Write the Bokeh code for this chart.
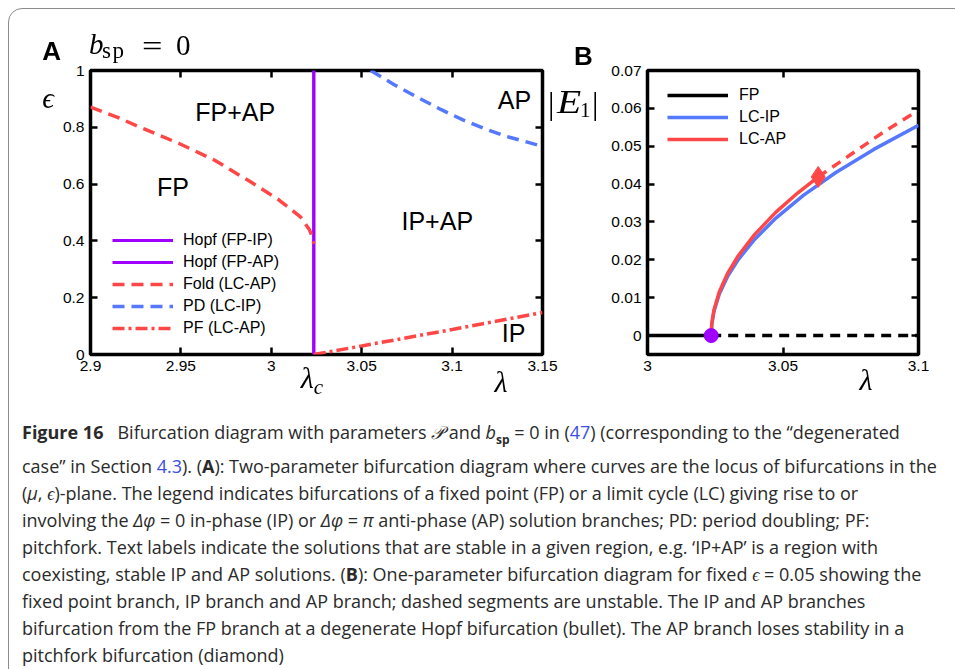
from bokeh.plotting import figure
from bokeh.models import Range1d, FixedTicker, LinearAxis, Label, Legend, LegendItem, Div
from bokeh.layouts import column, row
from bokeh.embed import file_html
from bokeh.resources import INLINE

# ---------------- data: panel A (two-parameter diagram) ----------------
lam_c = 3.0235
hopf_lam = [lam_c, lam_c]
hopf_eps = [0.0, 1.0]
fold_lam = [2.900, 2.915, 2.9293, 2.949, 2.9687, 2.9885, 3.0043, 3.0161, 3.0211, 3.0230, 3.0235]
fold_eps = [0.871, 0.835, 0.795, 0.743, 0.684, 0.608, 0.544, 0.485, 0.439, 0.410, 0.390]
pd_lam = [3.055, 3.068, 3.081, 3.094, 3.106, 3.118, 3.130, 3.150]
pd_eps = [1.000, 0.950, 0.905, 0.862, 0.826, 0.795, 0.768, 0.733]
pf_lam = [3.0235, 3.050, 3.075, 3.100, 3.125, 3.150]
pf_eps = [0.000, 0.030, 0.059, 0.088, 0.118, 0.148]
region_names = ["FP+AP", "FP", "IP+AP", "AP", "IP"]
region_lam = [2.980, 2.9456, 3.0918, 3.1345, 3.134]
region_eps = [0.854, 0.591, 0.471, 0.895, 0.074]
a_xticks = [2.9, 2.95, 3.0, 3.05, 3.1, 3.15]
a_xlabels = ["2.9", "2.95", "3", "3.05", "3.1", "3.15"]
a_yticks = [0.0, 0.2, 0.4, 0.6, 0.8, 1.0]
a_ylabels = ["0", "0.2", "0.4", "0.6", "0.8", "1"]
a_legend = ["Hopf (FP-IP)", "Hopf (FP-AP)", "Fold (LC-AP)", "PD (LC-IP)", "PF (LC-AP)"]

# ---------------- data: panel B (one-parameter diagram) ----------------
fp_stable_lam = [3.0, lam_c]
fp_stable_E = [0.0, 0.0]
fp_unstable_lam = [lam_c, 3.1]
fp_unstable_E = [0.0, 0.0]
ip_lam = [3.0235, 3.0237, 3.0245, 3.0265, 3.0295, 3.0335, 3.0395, 3.0475, 3.0575, 3.0695, 3.0835, 3.1]
ip_E = [0.0, 0.00284, 0.00635, 0.01099, 0.01555, 0.02007, 0.02539, 0.03109, 0.03701, 0.04305, 0.04916, 0.05551]
ap_stable_lam = [3.0235, 3.0237, 3.0245, 3.0265, 3.0295, 3.0335, 3.0395, 3.0475, 3.0555, 3.063]
ap_stable_E = [0.0, 0.00298, 0.00667, 0.01155, 0.01633, 0.02108, 0.02666, 0.03266, 0.03771, 0.0419]
ap_unstable_lam = [3.063, 3.075, 3.087, 3.0995]
ap_unstable_E = [0.0419, 0.0478, 0.0537, 0.0593]
pf_point_lam = [3.063]
pf_point_E = [0.0419]
hopf_point_lam = [lam_c]
hopf_point_E = [0.0]
b_xticks = [3.0, 3.05, 3.1]
b_xlabels = ["3", "3.05", "3.1"]
b_yticks = [0.0, 0.01, 0.02, 0.03, 0.04, 0.05, 0.06, 0.07]
b_ylabels = ["0", "0.01", "0.02", "0.03", "0.04", "0.05", "0.06", "0.07"]
b_legend = ["FP", "LC-IP", "LC-AP"]

RED = "#ff4747"
BLUE = "#5578ff"
PURPLE = "#a000ff"
SANS = "Liberation Sans"
SERIF = "Liberation Serif"
H = 400  # canvas height of both panels


def style_axis(ax, ticks, labels, show):
    ax.ticker = FixedTicker(ticks=ticks)
    ax.major_tick_in = 7
    ax.major_tick_out = 0
    ax.minor_tick_in = 0
    ax.minor_tick_out = 0
    ax.major_tick_line_width = 2.5
    ax.major_tick_line_color = "black"
    ax.axis_line_color = None
    ax.axis_label = None
    if show:
        ax.major_label_overrides = dict(zip(ticks, labels))
        ax.major_label_text_font = SANS
        ax.major_label_text_color = "black"
        ax.major_label_text_font_size = "15.5px"
        ax.major_label_standoff = 6
    else:
        ax.major_label_text_color = None
        ax.major_label_text_font_size = "1px"
        ax.major_label_standoff = 0


def make_fig(width, xr, yr, borders, xt, xl, yt, yl):
    p = figure(width=width, height=H, x_range=Range1d(*xr), y_range=Range1d(*yr),
               output_backend="svg", toolbar_location=None,
               min_border_left=borders[0], min_border_right=borders[1],
               min_border_top=borders[2], min_border_bottom=borders[3])
    p.grid.visible = False
    p.border_fill_color = None
    p.background_fill_color = "white"
    p.outline_line_color = "black"
    p.outline_line_width = 3.5
    style_axis(p.xaxis[0], xt, xl, True)
    style_axis(p.yaxis[0], yt, yl, True)
    top = LinearAxis()
    style_axis(top, xt, xl, False)
    p.add_layout(top, "above")
    right = LinearAxis()
    style_axis(right, yt, yl, False)
    p.add_layout(right, "right")
    return p


# ---------------- panel A ----------------
pa = make_fig(560, (2.9, 3.15), (0, 1), (90, 18, 70, 45), a_xticks, a_xlabels, a_yticks, a_ylabels)
r_h1 = pa.line(hopf_lam, hopf_eps, line_color=PURPLE, line_width=3)
r_h2 = pa.line(hopf_lam, hopf_eps, line_color=PURPLE, line_width=3)
r_fold = pa.line(fold_lam, fold_eps, line_color=RED, line_width=3.5, line_dash="12 7")
r_pd = pa.line(pd_lam, pd_eps, line_color=BLUE, line_width=3.5, line_dash="12 7")
r_pf = pa.line(pf_lam, pf_eps, line_color=RED, line_width=3.5, line_dash="12 4 3 4")
for name, lx, ly in zip(region_names, region_lam, region_eps):
    pa.add_layout(Label(x=lx, y=ly, text=name, text_font=SANS, text_font_size="25px",
                        text_align="center", text_baseline="middle", text_color="black"))
leg_a = Legend(items=[LegendItem(label=t, renderers=[r]) for t, r in
                      zip(a_legend, [r_h1, r_h2, r_fold, r_pd, r_pf])],
               location=(22, 15), orientation="vertical", padding=0, margin=0, spacing=0,
               glyph_width=61, glyph_height=22, label_height=22, label_standoff=10,
               label_text_font=SANS, label_text_font_size="16px", label_text_color="black",
               border_line_color=None, background_fill_alpha=0)
pa.add_layout(leg_a)

# ---------------- panel B ----------------
pb = make_fig(415, (3.0, 3.1), (-0.005, 0.07), (107, 37, 70, 46), b_xticks, b_xlabels, b_yticks, b_ylabels)
pb.margin = (0, 0, 0, -20)
r_fp = pb.line(fp_stable_lam, fp_stable_E, line_color="black", line_width=3.5)
pb.line(fp_unstable_lam, fp_unstable_E, line_color="black", line_width=3.5, line_dash="10 7")
r_ip = pb.line(ip_lam, ip_E, line_color=BLUE, line_width=3.5)
r_ap = pb.line(ap_stable_lam, ap_stable_E, line_color=RED, line_width=3.5)
pb.line(ap_unstable_lam, ap_unstable_E, line_color=RED, line_width=3.5, line_dash="10 7")
pb.scatter(pf_point_lam, pf_point_E, marker="diamond", size=21, fill_color=RED, line_color=RED)
pb.scatter(hopf_point_lam, hopf_point_E, marker="circle", size=14, fill_color=PURPLE, line_color=PURPLE)
leg_b = Legend(items=[LegendItem(label=t, renderers=[r]) for t, r in zip(b_legend, [r_fp, r_ip, r_ap])],
               location=(20, 204), orientation="vertical", padding=0, margin=0, spacing=0,
               glyph_width=61, glyph_height=22, label_height=22, label_standoff=11,
               label_text_font=SANS, label_text_font_size="16px", label_text_color="black",
               border_line_color=None, background_fill_alpha=0)
pb.add_layout(leg_b)


# ---------------- panel letters and axis symbols (outside the plot frames) ----------------
def overlay(x, y, html, size, font=SERIF, weight="normal", style="normal", centered=True, extra=""):
    tx = "-50%" if centered else "0"
    return (f"<div style=\"position:fixed;left:{x}px;top:{y}px;transform:translate({tx},-50%);"
            f"font-family:'{font}';font-size:{size}px;font-weight:{weight};font-style:{style};"
            f"line-height:1;white-space:nowrap;color:#000;{extra}\">{html}</div>")


def low(text, size, drop, style="normal"):
    return (f"<span style=\"font-size:{size}px;position:relative;top:{drop}px;"
            f"font-style:{style}\">{text}</span>")


overlays = "".join([
    overlay(51.7, 51, "A", 26, font=SANS, weight="bold"),
    overlay(89, 44, "b", 29, style="italic", centered=False),
    overlay(102, 50, "sp", 23, centered=False, extra="letter-spacing:1.5px"),
    overlay(142, 46, "=", 29, centered=False, extra="transform:translate(0,-50%) scaleX(1.25);transform-origin:left"),
    overlay(176, 45, "0", 29, centered=False),
    overlay(48, 98, "ϵ", 29, style="italic"),
    overlay(312, 378, "λ" + low("c", 21, 6, "italic"), 30, style="italic"),
    overlay(501, 382, "λ", 30, style="italic"),
    overlay(583.5, 56, "B", 26, font=SANS, weight="bold"),
    overlay(548, 103, "|", 32, centered=False),
    overlay(557, 102, "E", 33, style="italic", centered=False, extra="transform:translate(0,-50%) scaleX(1.2);transform-origin:left"),
    overlay(580, 110, "1", 21, centered=False),
    overlay(592, 103, "|", 32, centered=False),
    overlay(866, 380, "λ", 30, style="italic"),
])

# ---------------- caption ----------------
BL = "color:#3a4fe0"
cap_lines = [
    "<b>Figure 16</b>&nbsp;&nbsp; Bifurcation diagram with parameters <i style='font-family:Liberation Serif'>𝒫</i>&nbsp;and "
    "<i>b</i><sub style='font-size:12px'><b>sp</b></sub> = 0 in (<span style='%s'>47</span>) (corresponding to the “degenerated" % BL,
    "case” in Section <span style='%s'>4.3</span>). (<b>A</b>): Two-parameter bifurcation diagram where curves are the locus of bifurcations in the" % BL,
    "(<i>μ</i>, <i>ϵ</i>)-plane. The legend indicates bifurcations of a fixed point (FP) or a limit cycle (LC) giving rise to or",
    "involving the <i>Δφ</i> = 0 in-phase (IP) or <i>Δφ</i> = <i>π</i> anti-phase (AP) solution branches; PD: period doubling; PF:",
    "pitchfork. Text labels indicate the solutions that are stable in a given region, e.g. ‘IP+AP’ is a region with",
    "coexisting, stable IP and AP solutions. (<b>B</b>): One-parameter bifurcation diagram for fixed <i>ϵ</i> = 0.05 showing the",
    "fixed point branch, IP branch and AP branch; dashed segments are unstable. The IP and AP branches",
    "bifurcation from the FP branch at a degenerate Hopf bifurcation (bullet). The AP branch loses stability in a",
    "pitchfork bifurcation (diamond)",
]
cap_html = (
    "<div style=\"position:fixed;left:8px;top:8px;width:1200px;height:900px;border:1.5px solid #8c8c8c;"
    "border-radius:14px;pointer-events:none\"></div>"
    + overlays +
    "<div style=\"font-family:'Open Sans';font-size:18px;line-height:27px;color:#2a2a2a;"
    "padding:19px 0 0 22px;white-space:nowrap\">" + "<br>".join(cap_lines) + "</div>"
)
caption = Div(text=cap_html, width=955, height=269, margin=0)

layout = column(row(pa, pb, spacing=0), caption, spacing=0)
open("out.html", "w").write(file_html(layout, INLINE))
